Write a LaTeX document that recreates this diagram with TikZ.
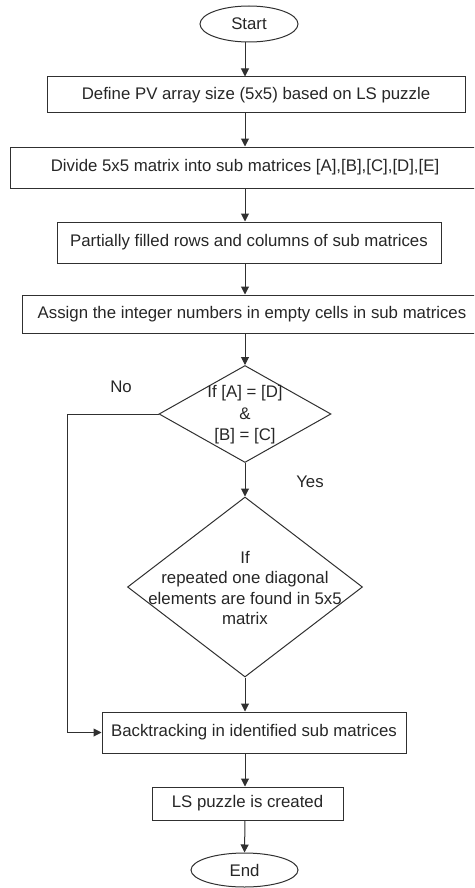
\documentclass[tikz,border=0pt]{standalone}
\usepackage{fontspec}
\setmainfont{Liberation Sans}
\usetikzlibrary{shapes.geometric,arrows.meta}
\definecolor{txt}{HTML}{262626}
\definecolor{ln}{HTML}{303030}
\begin{document}
\begin{tikzpicture}[x=1pt,y=-1pt,
  every node/.style={text=txt,font=\fontsize{16.8}{20.5}\selectfont},
  proc/.style={draw=ln,line width=1pt,rectangle,inner sep=0pt},
  term/.style={draw=ln,line width=1pt,ellipse,inner sep=0pt},
  dec/.style={draw=ln,line width=1pt,diamond,inner sep=0pt},
  dtext/.style={align=center,inner sep=0pt},
  arr/.style={draw=ln,line width=1pt,-{Triangle[length=8pt,width=8pt]}},
  lbl/.style={}]
\useasboundingbox (0,0) rectangle (474,888);
\clip (0,0) rectangle (474,888);
\node[term,minimum width=98pt,minimum height=36pt] (start) at (249,24) {Start};
\node[proc,minimum width=418pt,minimum height=36pt] (b1) at (256,95) {Define PV array size (5x5) based on LS puzzle};
\node[proc,minimum width=470pt,minimum height=41pt] (b2) at (245,167.5) {Divide 5x5 matrix into sub matrices [A],[B],[C],[D],[E]};
\node[proc,minimum width=384pt,minimum height=41pt] (b3) at (249,242.5) {Partially filled rows and columns of sub matrices};
\node[proc,minimum width=460pt,minimum height=38pt] (b4) at (252,314) {Assign the integer numbers in empty cells in sub matrices};
\node[dec,minimum width=172pt,minimum height=97pt] (d1) at (245,414) {};
\node[dtext,font=\fontsize{16.8}{21.5}\selectfont] (d1t) at (245,415) {If [A] = [D]\\\&\\{}[B] = [C]};
\node[dec,minimum width=235pt,minimum height=180pt] (d2) at (245,587) {};
\node[dtext] (d2t) at (245,588) {If\\repeated one diagonal\\elements are found in 5x5\\matrix};
\node[proc,minimum width=304pt,minimum height=41pt] (b5) at (254,732.5) {Backtracking in identified sub matrices};
\node[proc,minimum width=191pt,minimum height=33pt] (b6) at (247.5,803.5) {LS puzzle is created};
\node[term,minimum width=107pt,minimum height=34pt] (end) at (244.5,870) {End};
\node[lbl] (no) at (121,387) {No};
\node[lbl] (yes) at (310,482) {Yes};
\coordinate (c1) at (67,414);
\draw[arr] (start.south -| 245,0) -- (245,0 |- b1.north);
\draw[arr] (245,0 |- b1.south) -- (245,0 |- b2.north);
\draw[arr] (245,0 |- b2.south) -- (245,0 |- b3.north);
\draw[arr] (245,0 |- b3.south) -- (245,0 |- b4.north);
\draw[arr] (245,0 |- b4.south) -- (d1.north);
\draw[arr] (d1.south) -- (d2.north);
\draw[arr] (d2.south) -- (245,0 |- b5.north);
\draw[arr] (d1.west) -- (c1) |- (b5.west);
\draw[arr] (245,0 |- b5.south) -- (245,0 |- b6.north);
\draw[arr] (245,0 |- b6.south) -- (end.north);
\end{tikzpicture}
\end{document}
